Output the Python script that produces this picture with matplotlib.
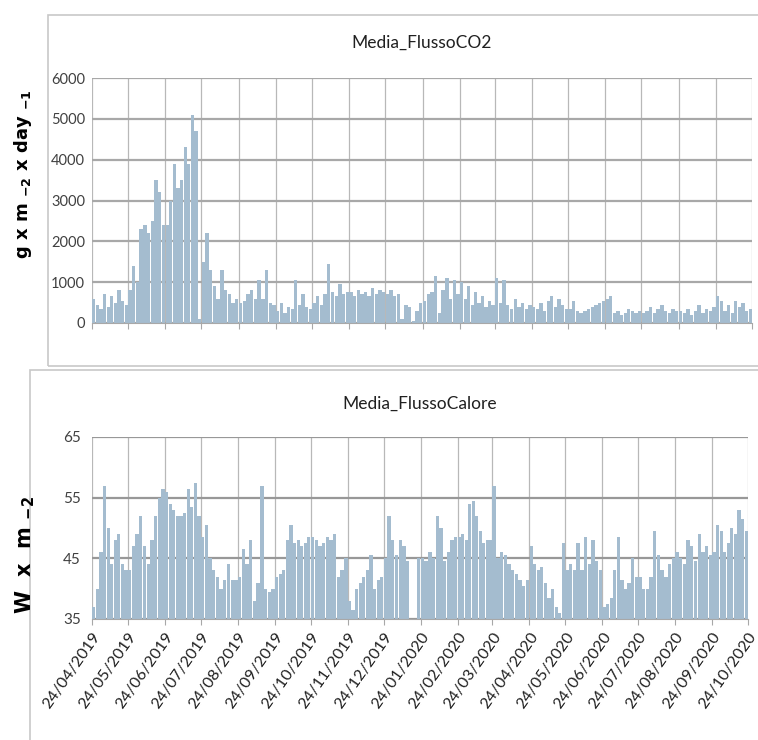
import numpy as np
import pandas as pd
import matplotlib
matplotlib.use('Agg')
import matplotlib.pyplot as plt
import matplotlib.dates as mdates
from matplotlib.patches import Rectangle

# monthly blocks, 10 readings per month (24th to 24th)
co2 = [
    [600, 450, 350, 700, 400, 650, 500, 800, 550, 450],
    [800, 1400, 1000, 2300, 2400, 2200, 2500, 3500, 3200, 2400],
    [2400, 3000, 3900, 3300, 3500, 4300, 3900, 5100, 4700, 100],
    [1500, 2200, 1300, 900, 600, 1300, 800, 700, 500, 600],
    [500, 550, 700, 800, 600, 1050, 600, 1300, 500, 450],
    [300, 500, 250, 400, 350, 1050, 450, 700, 400, 350],
    [500, 650, 450, 700, 1450, 750, 650, 950, 700, 750],
    [750, 650, 800, 700, 750, 650, 850, 700, 800, 750],
    [700, 800, 650, 700, 100, 450, 400, 50, 300, 500],
    [550, 700, 750, 1150, 250, 800, 1100, 600, 1050, 700],
    [1000, 600, 900, 450, 750, 500, 650, 400, 550, 450],
    [1100, 500, 1050, 450, 350, 600, 400, 500, 350, 450],
    [400, 350, 500, 300, 550, 650, 400, 600, 450, 350],
    [350, 550, 300, 250, 300, 350, 400, 450, 500, 550],
    [600, 650, 250, 300, 200, 250, 350, 300, 250, 300],
    [250, 300, 400, 250, 350, 450, 300, 250, 350, 300],
    [300, 250, 350, 200, 300, 450, 250, 350, 300, 400],
    [650, 550, 300, 450, 250, 550, 400, 500, 300, 350],
]

heat = [
    [37, 40, 46, 57, 50, 44, 48, 49, 44, 43],
    [43, 47, 49, 52, 47, 44, 48, 52, 55, 56.5],
    [56, 54, 53, 52, 52, 52.5, 56.5, 53.5, 57.5, 52],
    [48.5, 50.5, 45, 43, 42, 40, 41.5, 44, 41.5, 41.5],
    [42, 46.5, 44, 48, 38, 41, 57, 40, 39.5, 40],
    [42, 42.5, 43, 48, 50.5, 47.5, 48, 47, 47.5, 48.5],
    [48.5, 48, 47, 47.5, 48.5, 48, 49, 42, 43, 45],
    [38, 36.5, 40, 41, 42, 43, 45.5, 40, 41.5, 42],
    [45, 52, 48, 45.5, 48, 47, 44.5, 35, 35, 45],
    [45, 44.5, 46, 45, 52, 50, 44.5, 46, 48, 48.5],
    [48.5, 49, 48, 54, 54.5, 52, 49.5, 47.5, 48, 48],
    [57, 45, 46, 45.5, 44, 43, 42.5, 41.5, 40.5, 41.5],
    [47, 44, 43, 43.5, 41, 38.5, 40, 37, 36, 47.5],
    [43, 44, 43, 47.5, 43, 48.5, 44, 48, 44.5, 43],
    [37, 37.5, 38.5, 43, 48.5, 41.5, 40, 41, 45, 42],
    [42, 40, 40, 42, 49.5, 45.5, 43, 42, 44, 45],
    [46, 45, 44, 48, 47, 44.5, 49, 46, 47, 45.5],
    [46, 50.5, 49.5, 46, 47.5, 50, 49, 53, 51.5, 49.5],
]

month_starts = pd.date_range('2019-04-24', periods=19, freq=pd.DateOffset(months=1))
tick_labels = [d.strftime('%d/%m/%Y') for d in month_starts]

# x position of each reading inside its month
xs, widths = [], []
for i in range(18):
    a = mdates.date2num(month_starts[i])
    b = mdates.date2num(month_starts[i + 1])
    step = (b - a) / 10
    for k in range(10):
        xs.append(a + step * (k + 0.5))
        widths.append(step * 0.9)
co2_vals = np.array(co2).ravel()
heat_vals = np.array(heat).ravel()
tick_pos = mdates.date2num(month_starts)

plt.rcParams['font.family'] = ['Liberation Sans Narrow', 'Lato', 'DejaVu Sans']
plt.rcParams['mathtext.default'] = 'bf'
bar_col = '#a4bccf'
grid_col = '#a8a8a8'
txt_col = '#404040'

fig = plt.figure(figsize=(7.58, 7.4), dpi=100)

# chart frames
fig.patches.append(Rectangle((48/758, 1 - 366/740), 1, 351/740, transform=fig.transFigure,
                             fill=False, edgecolor='#c8c8c8', lw=1.2))
fig.patches.append(Rectangle((30/758, -0.01), 1, 1 - 370/740 + 0.01, transform=fig.transFigure,
                             fill=False, edgecolor='#c8c8c8', lw=1.2))

ax1 = fig.add_axes([92/758, 1 - 323/740, 660/758, 245/740])
ax1.bar(xs, co2_vals, width=widths, color=bar_col, linewidth=0)
ax1.set_xlim(tick_pos[0], tick_pos[-1])
ax1.set_ylim(0, 6000)
ax1.set_yticks(np.arange(0, 6001, 1000))
ax1.set_xticks(tick_pos)
ax1.set_xticklabels([])
ax1.tick_params(axis='y', length=0, labelsize=10.5, labelcolor=txt_col, pad=5)
ax1.tick_params(axis='x', length=4, color=grid_col)
ax1.grid(axis='y', color=grid_col, lw=1.6)
ax1.grid(axis='x', color='#b8b8b8', lw=0.9)
ax1.set_axisbelow(True)
for s in ['top', 'right', 'left']:
    ax1.spines[s].set_visible(False)
ax1.spines['bottom'].set_color(grid_col)
ax1.set_title('Media_FlussoCO2', fontsize=12.5, pad=22, color='#202020')
fig.text(23/758, 1 - 174/740, 'g x m $_{-2}$ x day $_{-1}$', rotation=90, ha='center', va='center',
         fontsize=13, fontweight='bold', family='DejaVu Sans')

ax2 = fig.add_axes([92/758, 1 - 619/740, 656/758, 182/740])
ax2.bar(xs, heat_vals, width=widths, color=bar_col, linewidth=0)
ax2.set_xlim(tick_pos[0], tick_pos[-1])
ax2.set_ylim(35, 65)
ax2.set_yticks([35, 45, 55, 65])
ax2.set_xticks(tick_pos)
ax2.set_xticklabels(tick_labels, rotation=55, ha='right', rotation_mode='anchor', fontsize=11.5, color='#202020')
ax2.tick_params(axis='y', length=0, labelsize=11, labelcolor=txt_col, pad=8)
ax2.tick_params(axis='x', length=4, color=grid_col, pad=4)
ax2.grid(axis='y', color='#989898', lw=1.6)
ax2.grid(axis='x', color='#b8b8b8', lw=0.9)
ax2.set_axisbelow(True)
for s in ['top', 'right', 'left']:
    ax2.spines[s].set_visible(False)
ax2.spines['bottom'].set_color(grid_col)
ax2.set_title('Media_FlussoCalore', fontsize=12.5, pad=20, color='#202020')
fig.text(25/758, 1 - 555/740, 'W  x  m $_{-2}$', rotation=90, ha='center', va='center',
         fontsize=15, fontweight='bold', family='DejaVu Sans')

fig.savefig('out.png', dpi=100)
